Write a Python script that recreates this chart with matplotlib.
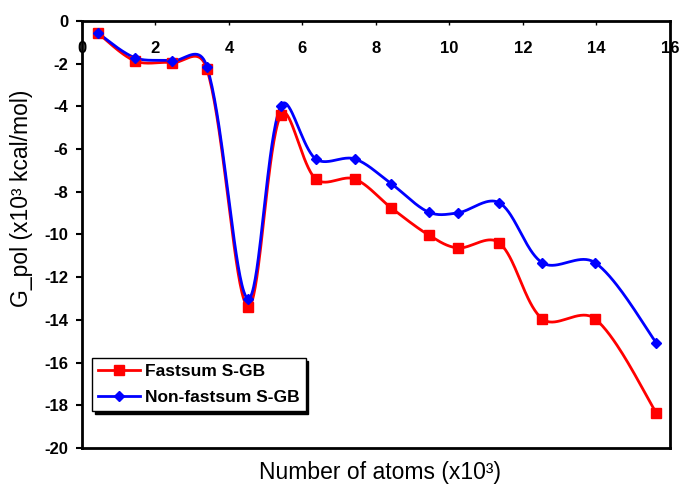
import numpy as np
import matplotlib
matplotlib.use('Agg')
import matplotlib.pyplot as plt

plt.rcParams['font.family'] = ['Liberation Sans', 'DejaVu Sans']

# number of atoms (x10^3) and polarization energies (x10^3 kcal/mol)
atoms = [0.43, 1.44, 2.45, 3.40, 4.51, 5.41, 6.36, 7.42, 8.42, 9.43, 10.22, 11.36, 12.53, 13.97, 15.63]
fastsum = [-0.56, -1.87, -1.95, -2.26, -13.38, -4.40, -7.40, -7.40, -8.76, -10.02, -10.63, -10.40, -13.96, -13.96, -18.36]
non_fastsum = [-0.56, -1.72, -1.86, -2.14, -13.00, -3.98, -6.46, -6.46, -7.63, -8.95, -8.99, -8.52, -11.33, -11.33, -15.08]

x_ticks = [0, 2, 4, 6, 8, 10, 12, 14, 16]
y_ticks = [0, -2, -4, -6, -8, -10, -12, -14, -16, -18, -20]

XSCALE, YSCALE = 36.8, 21.35  # px per data unit, used for smoothing in screen space


def smooth(xs, ys, n=40):
    # smoothed line: cubic bezier, control arms partly weighted by neighbouring chord lengths
    p = np.column_stack([np.asarray(xs) * XSCALE, np.asarray(ys) * YSCALE])
    ext = np.vstack([p[0], p, p[-1]])
    out = [p[:1]]
    t = np.linspace(0, 1, n)[1:, None]
    for i in range(len(p) - 1):
        p0, p1, p2, p3 = ext[i], ext[i + 1], ext[i + 2], ext[i + 3]
        d01 = np.linalg.norm(p1 - p0)
        d12 = np.linalg.norm(p2 - p1)
        d23 = np.linalg.norm(p3 - p2)
        w1 = d12 / (d01 + d12) if d01 > 0 else 0.5
        w2 = d12 / (d12 + d23) if d23 > 0 else 0.5
        w1 = 0.5 * (w1 + 0.5)
        w2 = 0.5 * (w2 + 0.5)
        c1 = p1 + (p2 - p0) * w1 / 3
        c2 = p2 - (p3 - p1) * w2 / 3
        seg = ((1 - t) ** 3) * p1 + 3 * ((1 - t) ** 2) * t * c1 + 3 * (1 - t) * t ** 2 * c2 + t ** 3 * p2
        out.append(seg)
    c = np.vstack(out)
    return c[:, 0] / XSCALE, c[:, 1] / YSCALE


fig = plt.figure(figsize=(6.82, 4.93), dpi=100)
ax = fig.add_axes([0.1202, 0.0913, 0.8622, 0.8661])

series = [
    (fastsum, '#ff0000', 's', 7.5, 'Fastsum S-GB'),
    (non_fastsum, '#0000ff', 'D', 5.5, 'Non-fastsum S-GB'),
]
for vals, col, mk, ms, name in series:
    sx, sy = smooth(atoms, vals)
    ax.plot(sx, sy, color=col, lw=2, zorder=3)
    ax.plot(atoms, vals, linestyle='none', marker=mk, ms=ms, color=col, zorder=4)
    # legend proxy
    ax.plot([], [], color=col, lw=2, marker=mk, ms=ms, label=name)

ax.set_xlim(0, 16)
ax.set_ylim(-20, 0)
ax.set_xticks(x_ticks)
ax.set_yticks(y_ticks)
ax.set_yticklabels([str(v) for v in y_ticks])

ax.xaxis.tick_top()
ax.tick_params(axis='x', top=True, bottom=False, labeltop=True, labelbottom=False,
               direction='in', length=3, width=1, pad=-25)
ax.tick_params(axis='y', direction='out', length=4, width=1.5, pad=6)
for lab in ax.get_xticklabels() + ax.get_yticklabels():
    lab.set_fontweight('bold')
    lab.set_fontsize(12)

for s in ax.spines.values():
    s.set_linewidth(2)
    s.set_color('black')

ax.set_ylabel('G_pol (x10³ kcal/mol)', fontsize=16.5)
ax.yaxis.set_label_coords(-0.083, 0.585)
ax.set_xlabel('Number of atoms (x10³)', fontsize=16.5)
ax.xaxis.set_label_position('bottom')
ax.xaxis.set_label_coords(0.506, -0.03)

leg = ax.legend(loc='lower left', bbox_to_anchor=(0.017, 0.087), frameon=True, fancybox=False,
                shadow={'color': 'black', 'alpha': 1}, edgecolor='black', framealpha=1,
                prop={'weight': 'bold', 'size': 12.5}, handlelength=2.4, handletextpad=0.3,
                borderpad=0.35, labelspacing=0.6, borderaxespad=0)
leg.get_frame().set_linewidth(1)

fig.savefig('out.png', dpi=100)
